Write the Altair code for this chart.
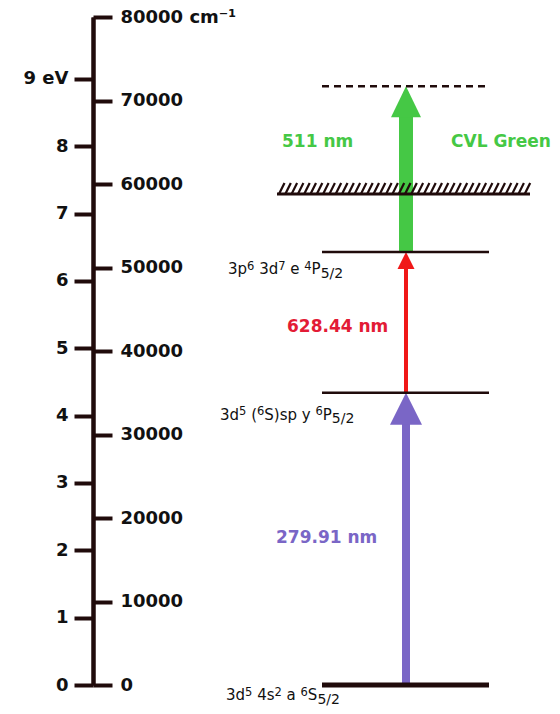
import altair as alt
import pandas as pd

# ---------------- data ----------------
cm_ticks = [0, 10000, 20000, 30000, 40000, 50000, 60000, 70000, 80000]
ev_ticks = [0, 1, 2, 3, 4, 5, 6, 7, 8, 9]
CM_PER_EV = 8065.54

# level designations as (text, kind) runs: n = normal, sup = superscript, sub = subscript
level_segments = [
    [("3d", "n"), ("5", "sup"), (" 4s", "n"), ("2", "sup"), (" a ", "n"), ("6", "sup"),
     ("S", "n"), ("5/2", "sub")],
    [("3d", "n"), ("5", "sup"), (" (", "n"), ("6", "sup"), ("S)sp y ", "n"), ("6", "sup"),
     ("P", "n"), ("5/2", "sub")],
    [("3p", "n"), ("6", "sup"), (" 3d", "n"), ("7", "sup"), (" e ", "n"), ("4", "sup"),
     ("P", "n"), ("5/2", "sub")],
]
level_E = [0, 35000, 51850]
ion_E = 58800          # hatched ionisation limit
virtual_E = 71700      # dashed final level

arrow_lower = [0, 35000, 51850]
arrow_upper = [35000, 51850, 71700]
arrow_colors = ["#7a66c6", "#f01818", "#45c845"]

wl_labels = ["279.91 nm", "628.44 nm", "511 nm"]
wl_label_E = [17600, 42870, 65030]
wl_colors = ["#7a66c6", "#e31b35", "#45c845"]
extra_label = "CVL Green"
extra_label_E = 65030

# ---------------- layout / style ----------------
W, H = 544, 668
AXIS_X = 85
LEVEL_X0, LEVEL_X1 = 314, 481
ARROW_X = 398
LEVEL_WIDTHS = [5, 2.5, 2.5]
SHAFT_W = [8, 4, 14]
HEAD_W = [32, 17, 30]
HEAD_L = [32, 17, 31]
WL_X = [268, 279, 274]
LABEL_X = [218, 212, 220]
LABEL_DY = [15, 27, 22]
KIND_SIZE = {"n": 15, "sup": 11.5, "sub": 14}
KIND_DY = {"n": 0, "sup": -4.5, "sub": 3.5}
DARK = "#200b0b"
FONT = "DejaVu Sans"
# DejaVu Sans advance widths (em)
ADV = {"a": 0.613, "d": 0.635, "e": 0.615, "p": 0.635, "s": 0.521, "y": 0.592,
       "S": 0.635, "P": 0.603, "(": 0.390, ")": 0.390, " ": 0.318, "/": 0.337}
for _d in "0123456789":
    ADV[_d] = 0.636

yscale = alt.Scale(domain=[0, 80000], nice=False, zero=True)
axis_common = dict(
    format="d", tickSize=19, tickWidth=4, tickColor=DARK,
    domainColor=DARK, domainWidth=4,
    labelFont=FONT, labelFontSize=18, labelFontWeight="bold", labelColor="#111111",
    labelOverlap=False, labelFlush=False, grid=False, title=None,
)
cm_axis = alt.Axis(
    orient="right", offset=AXIS_X - W, values=cm_ticks,
    labelExpr="datum.value == 80000 ? '80000 cm⁻¹' : datum.label",
    labelPadding=8, **axis_common,
)
ev_axis = alt.Axis(
    orient="left", offset=-AXIS_X, values=ev_ticks,
    labelExpr="datum.value == 9 ? '9 eV' : datum.label",
    labelPadding=6, **axis_common,
)


def Y(field):
    return alt.Y(f"{field}:Q", scale=yscale, axis=cm_axis)


layers = []

# arrows
for i in range(3):
    df = pd.DataFrame({"lo": [arrow_lower[i]], "hi": [arrow_upper[i]]})
    base = alt.Chart(df)
    shaft = base.mark_rule(
        color=arrow_colors[i], strokeWidth=SHAFT_W[i], y2Offset=HEAD_L[i] - 2
    ).encode(x=alt.value(ARROW_X), y=Y("lo"), y2=alt.Y2("hi"))
    r = 2 * HEAD_L[i] / HEAD_W[i]
    path = f"M0,0L-1,{r:.3f}L1,{r:.3f}Z"
    head = base.mark_point(
        shape=path, size=HEAD_W[i] ** 2, filled=True, color=arrow_colors[i],
        opacity=1, strokeWidth=0
    ).encode(x=alt.value(ARROW_X), y=Y("hi"))
    layers += [shaft, head]

# energy levels
levels_df = pd.DataFrame({"E": level_E, "w": LEVEL_WIDTHS})
levels = alt.Chart(levels_df).mark_rule(color=DARK).encode(
    x=alt.value(LEVEL_X0), x2=alt.value(LEVEL_X1), y=Y("E"),
    strokeWidth=alt.StrokeWidth("w:Q", scale=None, legend=None),
)
layers.append(levels)

# level designations composed from runs
for i, segs in enumerate(level_segments):
    rows = {k: [] for k in KIND_SIZE}
    x = LABEL_X[i]
    for txt, kind in segs:
        size = KIND_SIZE[kind]
        lead = len(txt) - len(txt.lstrip(" "))
        rows[kind].append({"t": txt.strip(), "px": x + lead * ADV[" "] * size, "E": level_E[i]})
        x += sum(ADV.get(c, 0.6) for c in txt) * size
    for kind, rr in rows.items():
        if not rr:
            continue
        layers.append(
            alt.Chart(pd.DataFrame(rr)).mark_text(
                align="left", baseline="alphabetic", font=FONT,
                fontSize=KIND_SIZE[kind], dy=LABEL_DY[i] + KIND_DY[kind], color="#111111"
            ).encode(x=alt.X("px:Q", scale=None), y=Y("E"), text="t:N")
        )

# ionisation limit (hatched)
ion_df = pd.DataFrame({"E": [ion_E]})
ion_line = alt.Chart(ion_df).mark_rule(color=DARK, strokeWidth=3).encode(
    x=alt.value(269), x2=alt.value(522), y=Y("E")
)
hatch = alt.Chart(alt.sequence(0, 40, as_="i")).transform_calculate(
    hx="271 + datum.i * 6.3", hx2="271 + datum.i * 6.3 + 5.5", E=str(ion_E)
).mark_rule(color=DARK, strokeWidth=2.2, y2Offset=-11).encode(
    x=alt.X("hx:Q", scale=None), x2=alt.X2("hx2"), y=Y("E"), y2=alt.Y2("E")
)
layers += [ion_line, hatch]

# dashed upper level
dash = alt.Chart(pd.DataFrame({"E": [virtual_E]})).mark_rule(
    color=DARK, strokeWidth=2.5, strokeDash=[7, 5]
).encode(x=alt.value(314), x2=alt.value(479), y=Y("E"))
layers.append(dash)

# wavelength labels
for i in range(3):
    t = alt.Chart(pd.DataFrame({"E": [wl_label_E[i]], "t": [wl_labels[i]]})).mark_text(
        align="left", baseline="middle", font=FONT, fontSize=17, fontWeight="bold",
        color=wl_colors[i]
    ).encode(x=alt.value(WL_X[i]), y=Y("E"), text="t:N")
    layers.append(t)
cvl = alt.Chart(pd.DataFrame({"E": [extra_label_E], "t": [extra_label]})).mark_text(
    align="left", baseline="middle", font=FONT, fontSize=17, fontWeight="bold",
    color=wl_colors[2]
).encode(x=alt.value(443), y=Y("E"), text="t:N")
layers.append(cvl)

main = alt.layer(*layers)

ev_layer = alt.Chart(pd.DataFrame({"ev": ev_ticks})).mark_point(opacity=0).encode(
    y=alt.Y("ev:Q", scale=alt.Scale(domain=[0, 80000 / CM_PER_EV], nice=False, zero=True),
            axis=ev_axis)
)

chart = alt.layer(main, ev_layer).resolve_scale(y="independent").properties(
    width=W, height=H,
    padding={"left": 0, "top": 9, "right": 0, "bottom": 21},
    autosize=alt.AutoSizeParams(type="none"),
).configure_view(stroke=None)

chart.save("out.html", embed_options={"renderer": "svg", "actions": False})
